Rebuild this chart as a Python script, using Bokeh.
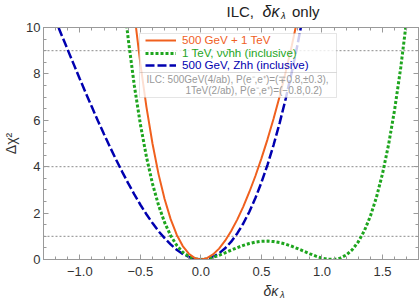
import numpy as np
from bokeh.plotting import figure
from bokeh.layouts import column
from bokeh.models import (FixedTicker, LinearAxis, Span, Label, Legend, LegendItem,
                          BoxAnnotation, Range1d, CustomJSTickFormatter)
from bokeh.core.properties import value
from bokeh.embed import file_html
from bokeh.resources import INLINE

# ---------------- data ----------------
delta_blue = [-1.25, -1.2, -1.15, -1.1, -1.05, -1.0, -0.95, -0.9, -0.85, -0.8, -0.75, -0.7,
              -0.65, -0.6, -0.55, -0.5, -0.45, -0.4, -0.35, -0.3, -0.25, -0.2, -0.15, -0.1,
              -0.05, 0.0, 0.05, 0.1, 0.15, 0.2, 0.25, 0.3, 0.35, 0.4, 0.45, 0.5, 0.55, 0.6,
              0.65, 0.7, 0.75, 0.8, 0.85]
chi2_blue = [10.95, 10.31, 9.67, 9.04, 8.41, 7.78, 7.17, 6.57, 5.97, 5.40, 4.84, 4.30,
             3.78, 3.28, 2.81, 2.36, 1.95, 1.57, 1.22, 0.92, 0.65, 0.42, 0.24, 0.11,
             0.028, 0.0, 0.029, 0.117, 0.267, 0.483, 0.767, 1.122, 1.552, 2.060, 2.648, 3.322,
             4.082, 4.934, 5.880, 6.924, 8.069, 9.320, 10.68]

delta_green = [-0.65, -0.6, -0.55, -0.5, -0.45, -0.4, -0.35, -0.3, -0.25, -0.2, -0.15, -0.1,
               -0.05, 0.0, 0.05, 0.1, 0.15, 0.2, 0.25, 0.3, 0.35, 0.4, 0.45, 0.5, 0.55, 0.6,
               0.65, 0.7, 0.75, 0.8, 0.85, 0.9, 0.95, 1.0, 1.05, 1.1, 1.15, 1.2, 1.25, 1.3,
               1.35, 1.4, 1.45, 1.5, 1.55, 1.6, 1.65, 1.7, 1.75]
chi2_green = [11.81, 9.49, 7.50, 5.83, 4.43, 3.27, 2.34, 1.60, 1.03, 0.612, 0.318, 0.130,
              0.030, 0.0, 0.025, 0.090, 0.182, 0.289, 0.402, 0.511, 0.610, 0.691, 0.750, 0.785,
              0.793, 0.774, 0.729, 0.661, 0.572, 0.468, 0.357, 0.245, 0.143, 0.060, 0.0093,
              0.0045, 0.060, 0.194, 0.422, 0.764, 1.241, 1.874, 2.687, 3.705, 4.954, 6.463,
              8.258, 10.37, 12.83]

delta_orange = [-0.6, -0.55, -0.5, -0.45, -0.4, -0.35, -0.3, -0.25, -0.2, -0.15, -0.1, -0.05,
                0.0, 0.05, 0.1, 0.15, 0.2, 0.25, 0.3, 0.35, 0.4, 0.45, 0.5, 0.55, 0.6, 0.65,
                0.7, 0.75, 0.8, 0.85]
chi2_orange = [13.13, 10.61, 8.44, 6.58, 5.00, 3.68, 2.61, 1.74, 1.07, 0.58, 0.25, 0.06,
               0.0, 0.057, 0.217, 0.47, 0.81, 1.23, 1.72, 2.28, 2.91, 3.60, 4.36, 5.18, 6.07,
               7.03, 8.08, 9.20, 10.43, 11.76]

series_labels = ["500 GeV + 1 TeV", "1 TeV, \u03bd\u03bd\u0304hh (inclusive)",
                 "500 GeV, Zhh (inclusive)"]
grid_levels = [1, 4, 9]
x_ticks = [-1.0, -0.5, 0.0, 0.5, 1.0, 1.5]
x_tick_labels = ["\u22121.0", "\u22120.5", "0.0", "0.5", "1.0", "1.5"]
y_ticks = [0, 2, 4, 6, 8, 10]
note_lines = ["ILC:  500GeV(4/ab), P(e\u207b,e\u207a)=(\u22130.8,\u00b10.3),",
              "1TeV(2/ab), P(e\u207b,e\u207a)=(\u22120.8,0.2)"]
title_parts = ["ILC,", "\u03b4\u03ba", "\u03bb", "only"]
xlabel_parts = ["\u03b4\u03ba", "\u03bb"]
ylabel = "\u0394\u03c7\u00b2"

# ---------------- styles ----------------
FONT = "Liberation Sans"
ORANGE = "#F0601E"
GREEN = "#1EA51E"
BLUE = "#0000B0"
GRAY = "#9a9a9a"
TXT = "#333333"
W = 419


def text_strip(height):
    f = figure(width=W, height=height, x_range=Range1d(0, 1), y_range=Range1d(0, 1),
               x_axis_type=None, y_axis_type=None, output_backend="svg",
               toolbar_location=None, title=None, min_border=0)
    f.xgrid.visible = False
    f.ygrid.visible = False
    f.outline_line_color = None
    f.background_fill_color = "white"
    f.border_fill_color = "white"
    return f


def add_text(fig, txt, x, y, size, color, style="normal"):
    # y is the bottom of the text box, measured up from the frame bottom
    fig.add_layout(Label(x=x, y=y, x_units="screen", y_units="screen", text=txt,
                         text_font=FONT, text_font_size=size, text_font_style=style,
                         text_color=color, text_baseline="bottom", text_align="left"))


# ---------------- title strip ----------------
tfig = text_strip(20)
for txt, x, y, size, style in zip(title_parts, [183, 219, 237.5, 248.5], [1, 1, 0, 1],
                                  ["15px", "16px", "9.5px", "15px"],
                                  ["normal", "italic", "italic", "normal"]):
    add_text(tfig, txt, x, y, size, "#222222", style)

# ---------------- main plot ----------------
p = figure(width=W, height=261, x_range=Range1d(-1.3, 1.797), y_range=Range1d(0, 10),
           output_backend="svg", toolbar_location=None, title=None,
           min_border_left=43, min_border_right=1, min_border_top=7, min_border_bottom=22)
p.xgrid.visible = False
p.ygrid.visible = False
p.outline_line_color = GRAY
p.background_fill_color = "white"
p.border_fill_color = "white"

x_minor = [round(v, 2) for v in np.arange(-1.3, 1.81, 0.1)]
y_minor = [round(v, 2) for v in np.arange(0, 10.01, 0.5)]


def style_axis(ax, show_labels=True):
    ax.axis_line_color = GRAY
    ax.major_tick_line_color = GRAY
    ax.minor_tick_line_color = GRAY
    ax.major_tick_in = 5
    ax.major_tick_out = 0
    ax.minor_tick_in = 3
    ax.minor_tick_out = 0
    if show_labels:
        ax.major_label_text_font = FONT
        ax.major_label_text_font_size = "13px"
        ax.major_label_text_color = TXT
    else:
        ax.formatter = CustomJSTickFormatter(code="return ''")
        ax.major_label_text_font_size = "0px"
        ax.major_label_standoff = 0


p.xaxis.ticker = FixedTicker(ticks=x_ticks, minor_ticks=x_minor)
p.xaxis.major_label_overrides = dict(zip(x_ticks, x_tick_labels))
style_axis(p.xaxis[0])
p.xaxis.major_label_standoff = 7

p.yaxis.ticker = FixedTicker(ticks=y_ticks, minor_ticks=y_minor)
style_axis(p.yaxis[0])
p.yaxis.major_label_standoff = 3
p.yaxis.axis_label = ylabel
p.yaxis.axis_label_text_font = FONT
p.yaxis.axis_label_text_font_size = "14px"
p.yaxis.axis_label_text_font_style = "normal"
p.yaxis.axis_label_text_color = TXT
p.yaxis.axis_label_standoff = 4

top_ax = LinearAxis(ticker=FixedTicker(ticks=x_ticks, minor_ticks=x_minor))
style_axis(top_ax, False)
p.add_layout(top_ax, "above")
right_ax = LinearAxis(ticker=FixedTicker(ticks=y_ticks, minor_ticks=y_minor))
style_axis(right_ax, False)
p.add_layout(right_ax, "right")

for lev in grid_levels:
    p.add_layout(Span(location=lev, dimension="width", line_color="#8a8a8a",
                      line_dash="2 2", line_width=1, level="underlay"))

r_blue = p.line(delta_blue, chi2_blue, line_color=BLUE, line_width=2.5, line_dash="9 3")
r_green = p.line(delta_green, chi2_green, line_color=GREEN, line_width=3, line_dash="3 2")
r_orange = p.line(delta_orange, chi2_orange, line_color=ORANGE, line_width=2)

# legend boxes (screen units relative to the frame)
for top, bottom in [(226, 187), (187, 162)]:
    p.add_layout(BoxAnnotation(left=96, right=293, top=top, bottom=bottom,
                               left_units="screen", right_units="screen",
                               top_units="screen", bottom_units="screen",
                               fill_color="white", fill_alpha=0.8,
                               line_color="#aaaaaa", line_width=1))

for r, lab, col, ly in zip([r_orange, r_green, r_blue], series_labels,
                           [ORANGE, GREEN, BLUE], [213, 200, 188]):
    lg = Legend(items=[LegendItem(label=value(lab), renderers=[r])], location=(102, ly),
                padding=0, margin=0, spacing=0, border_line_color=None,
                background_fill_alpha=0, glyph_width=31, glyph_height=12,
                label_height=12, label_standoff=6, label_text_font=FONT,
                label_text_font_size="11.6px", label_text_color=col)
    p.add_layout(lg)

for txt, x, y in zip(note_lines, [103, 142], [175, 163.5]):
    add_text(p, txt, x, y, "10px", "#999999")

# ---------------- x-label strip ----------------
xfig = text_strip(18)
for txt, x, y, size in zip(xlabel_parts, [220, 236.5], [0.5, 0], ["14px", "9.5px"]):
    add_text(xfig, txt, x, y, size, TXT, "italic")

layout = column(tfig, p, xfig, spacing=0)
open("out.html", "w").write(file_html(layout, INLINE))
